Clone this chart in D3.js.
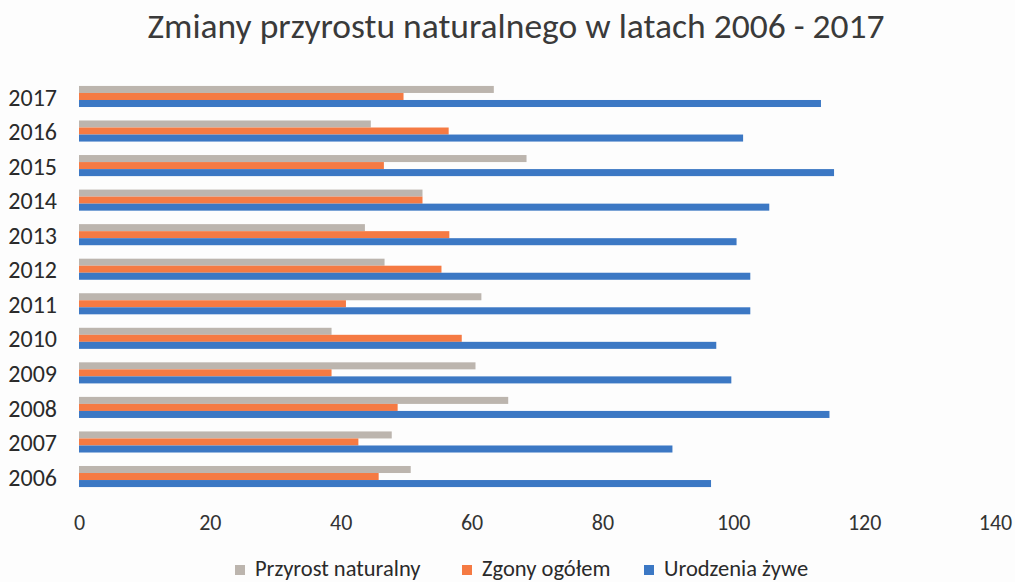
<!DOCTYPE html>
<html><head><meta charset="utf-8">
<script src="https://cdn.jsdelivr.net/npm/d3@7"></script>
<style>body{margin:0;background:#fdfdfd}svg{display:block}</style>
</head><body>
<svg id="c" width="1015" height="582"></svg>
<script>
const years = ["2006","2007","2008","2009","2010","2011","2012","2013","2014","2015","2016","2017"];
const przyrost = [50.7, 47.8, 65.6, 60.6, 38.6, 61.5, 46.7, 43.7, 52.5, 68.4, 44.6, 63.4];
const zgony = [45.8, 42.7, 48.7, 38.6, 58.5, 40.8, 55.4, 56.6, 52.5, 46.6, 56.5, 49.6];
const urodzenia = [96.6, 90.7, 114.7, 99.7, 97.4, 102.6, 102.6, 100.5, 105.5, 115.4, 101.5, 113.4];
const seriesNames = ["Przyrost naturalny", "Zgony ogółem", "Urodzenia żywe"];
const xTicks = [0, 20, 40, 60, 80, 100, 120, 140];
const colors = ["#bcb5ae", "#f57a43", "#3c78c4"];

const font = "Calibri, Carlito, 'Open Sans', sans-serif";
const svg = d3.select("#c");
const x = d3.scaleLinear().domain([0, 140]).range([79, 995]);
const y = d3.scaleBand().domain(years.slice().reverse()).range([79.2, 493.8]).paddingInner(0.39).paddingOuter(0.195);
const ys = d3.scaleBand().domain(seriesNames).range([0, y.bandwidth()]);

svg.append("text").attr("x", 516).attr("y", 38).attr("text-anchor", "middle")
  .attr("font-family", font).attr("font-size", 35.5).attr("fill", "#3a3a3a")
  .text("Zmiany przyrostu naturalnego w latach 2006 - 2017");

const data = [przyrost, zgony, urodzenia];
years.forEach((yr, i) => {
  const g = svg.append("g").attr("transform", `translate(0,${y(yr)})`);
  seriesNames.forEach((s, j) => {
    g.append("rect").attr("x", x(0)).attr("y", ys(s))
      .attr("width", x(data[j][i]) - x(0)).attr("height", ys.bandwidth())
      .attr("fill", colors[j]);
  });
});

// y axis labels
const yAxis = d3.axisLeft(y).tickSize(0).tickPadding(22);
const ya = svg.append("g").attr("transform", `translate(${x(0)},0)`).call(yAxis);
ya.select(".domain").remove();
ya.selectAll("text").attr("font-family", font).attr("font-size", 24).attr("fill", "#2a2a2a").attr("dy", "0.38em");

// x axis labels
const xAxis = d3.axisBottom(x).tickValues(xTicks).tickSize(0).tickPadding(0);
const xa = svg.append("g").attr("transform", `translate(0,530)`).call(xAxis);
xa.select(".domain").remove();
xa.selectAll("text").attr("font-family", font).attr("font-size", 22).attr("fill", "#333").attr("dy", "0");

// legend
const legX = [235, 462, 644];
seriesNames.forEach((s, j) => {
  svg.append("rect").attr("x", legX[j]).attr("y", 565).attr("width", 10).attr("height", 10).attr("fill", colors[j]);
  svg.append("text").attr("x", legX[j] + 20).attr("y", 576).attr("font-family", font)
    .attr("font-size", 22.5).attr("fill", "#2a2a2a").text(s);
});
</script>
</body></html>
